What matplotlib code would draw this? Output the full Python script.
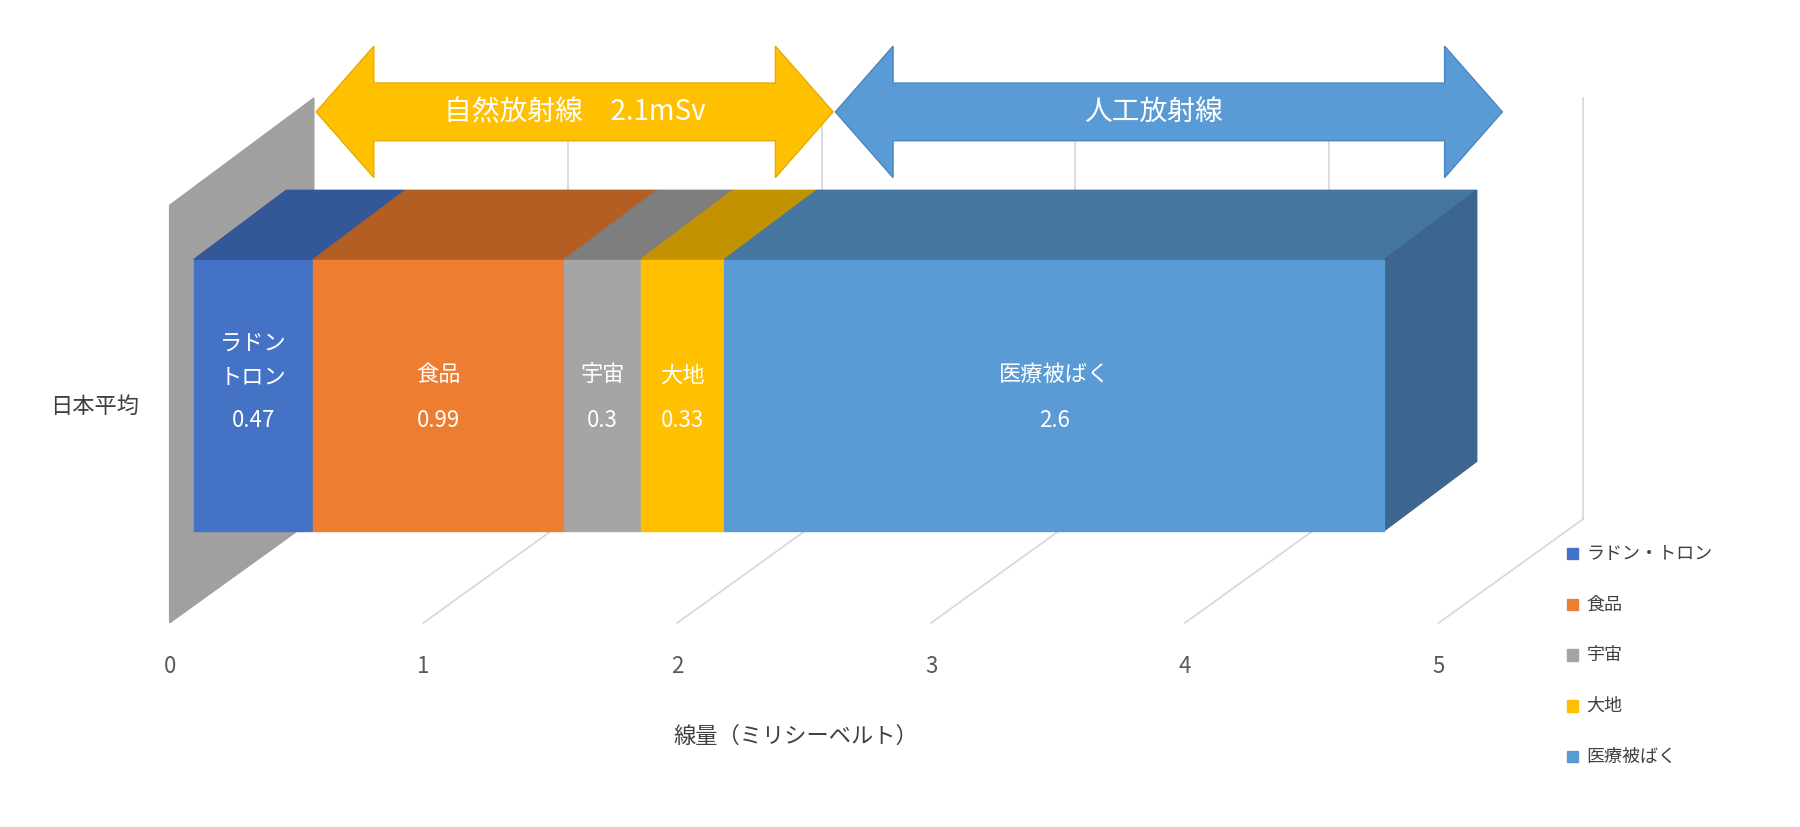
import matplotlib
matplotlib.use("Agg")
import matplotlib.pyplot as plt
from matplotlib.patches import Polygon, FancyArrow

plt.rcParams["font.family"] = "Noto Sans CJK JP"

categories = ["ラドン・トロン", "食品", "宇宙", "大地", "医療被ばく"]
bar_labels = ["ラドン\nトロン", "食品", "宇宙", "大地", "医療被ばく"]
values = [0.47, 0.99, 0.3, 0.33, 2.6]
colors = ["#4472C4", "#ED7D31", "#A5A5A5", "#FFC000", "#5B9BD5"]
tops = ["#335797", "#B35E22", "#7E7E7E", "#C29200", "#44769F"]
ticks = [0, 1, 2, 3, 4, 5]

W, H = 1560, 717
fig = plt.figure(figsize=(18, 8.27), dpi=100)
ax = fig.add_axes([0, 0, 1, 1])
ax.set_xlim(0, W); ax.set_ylim(H, 0); ax.axis("off")

X0, S, DX, DY = 168, 220, 80, -60
def px(v): return X0 + S * v
YT, YB = 225, 460
grid = "#D9D9D9"

# wall
ax.add_patch(Polygon([(147, 178), (272, 85), (272, 450), (147, 540)], color="#A0A0A0", zorder=1))
for k in ticks[1:]:
    bx = 147 + S * k
    ax.plot([bx, bx + 125], [540, 450], color=grid, lw=1.3, zorder=0)
    ax.plot([bx + 125, bx + 125], [450, 85], color=grid, lw=1.3, zorder=0)
for k in ticks:
    ax.text(147 + S * k, 578, str(k), ha="center", va="center", fontsize=16, color="#595959")

start = 0
for i, (v, c, t) in enumerate(zip(values, colors, tops)):
    x0, x1 = px(start), px(start + v)
    ax.add_patch(Polygon([(x0, YT), (x1, YT), (x1 + DX, YT + DY), (x0 + DX, YT + DY)], color=t, zorder=2))
    ax.add_patch(Polygon([(x0, YT), (x1, YT), (x1, YB), (x0, YB)], color=c, zorder=3))
    ax.text((x0 + x1) / 2, 312 if i == 0 else 325, bar_labels[i], ha="center", va="center",
            fontsize=16, color="white", zorder=5, linespacing=1.6)
    ax.text((x0 + x1) / 2, 365, f"{v:g}", ha="center", va="center", fontsize=16, color="white", zorder=5)
    start += v
xe = px(start)
ax.add_patch(Polygon([(xe, YT), (xe + DX, YT + DY), (xe + DX, YB + DY), (xe, YB)], color="#3C6590", zorder=2))

# arrows
def darrow(xa, xb, col, edge):
    yc, bh, hh, hl = 97, 25, 57, 50
    pts = [(xa, yc), (xa + hl, yc - hh), (xa + hl, yc - bh), (xb - hl, yc - bh), (xb - hl, yc - hh),
           (xb, yc), (xb - hl, yc + hh), (xb - hl, yc + bh), (xa + hl, yc + bh), (xa + hl, yc + hh)]
    ax.add_patch(Polygon(pts, facecolor=col, edgecolor=edge, lw=1, zorder=4))
darrow(274, 722, "#FFC000", "#E6AC00")
darrow(724, 1302, "#5B9BD5", "#4A86C0")
ax.text(498, 97, "自然放射線　2.1mSv", ha="center", va="center", fontsize=20, color="white", zorder=5)
ax.text(1000, 97, "人工放射線", ha="center", va="center", fontsize=20, color="white", zorder=5)

ax.text(82, 352, "日本平均", ha="center", va="center", fontsize=16, color="#404040")
ax.text(690, 638, "線量（ミリシーベルト）", ha="center", va="center", fontsize=16, color="#404040")

for i, (c, name) in enumerate(zip(colors, categories)):
    y = 480 + 44 * i
    ax.add_patch(Polygon([(1358, y - 5), (1368, y - 5), (1368, y + 5), (1358, y + 5)], color=c))
    ax.text(1375, y, name, ha="left", va="center", fontsize=13, color="#404040")

fig.savefig("out.png", dpi=100)
